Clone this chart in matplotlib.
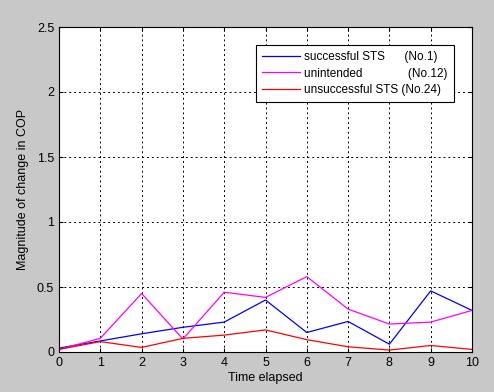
import matplotlib
matplotlib.use('Agg')
import matplotlib.pyplot as plt
import numpy as np

plt.rcParams['font.family'] = ['Liberation Sans', 'DejaVu Sans']

time = np.arange(0, 11)
successful = [0.03, 0.085, 0.14, 0.19, 0.23, 0.40, 0.15, 0.235, 0.06, 0.47, 0.32]
unintended = [0.02, 0.105, 0.45, 0.10, 0.46, 0.42, 0.58, 0.33, 0.215, 0.23, 0.32]
unsuccessful = [0.02, 0.08, 0.035, 0.105, 0.13, 0.17, 0.095, 0.04, 0.015, 0.05, 0.02]

labels = ['successful STS      (No.1)',
          'unintended              (No.12)',
          'unsuccessful STS (No.24)']

fig = plt.figure(figsize=(4.94, 3.92), dpi=100, facecolor='#c8c8c8')
ax = fig.add_axes([59 / 494, 1 - 352 / 392, 413 / 494, 325 / 392])
ax.set_facecolor('white')

ax.plot(time, successful, color='blue', lw=0.9, label=labels[0])
ax.plot(time, unintended, color='magenta', lw=0.9, label=labels[1])
ax.plot(time, unsuccessful, color='red', lw=0.9, label=labels[2])

ax.set_xlim(0, 10)
ax.set_ylim(0, 2.5)
ax.set_xticks(time)
ax.set_yticks([0, 0.5, 1, 1.5, 2, 2.5])
ax.set_yticklabels(['0', '0.5', '1', '1.5', '2', '2.5'])
ax.grid(True, color='black', linestyle=(0, (2, 3)), lw=0.7)
ax.tick_params(direction='in', top=True, right=True, labelsize=9, length=3)
for s in ax.spines.values():
    s.set_linewidth(0.8)

ax.set_xlabel('Time elapsed', fontsize=9, labelpad=2)
ax.set_ylabel('Magnitude of change in COP', fontsize=9, labelpad=6)

leg = ax.legend(loc='upper right', bbox_to_anchor=(0.956, 0.945), fontsize=8.5,
                fancybox=False, framealpha=1, edgecolor='black', borderaxespad=0,
                handlelength=3.2, handletextpad=0.4, borderpad=0.5, labelspacing=0.4)
leg.get_frame().set_linewidth(0.8)

fig.savefig('out.png', dpi=100, facecolor=fig.get_facecolor())
